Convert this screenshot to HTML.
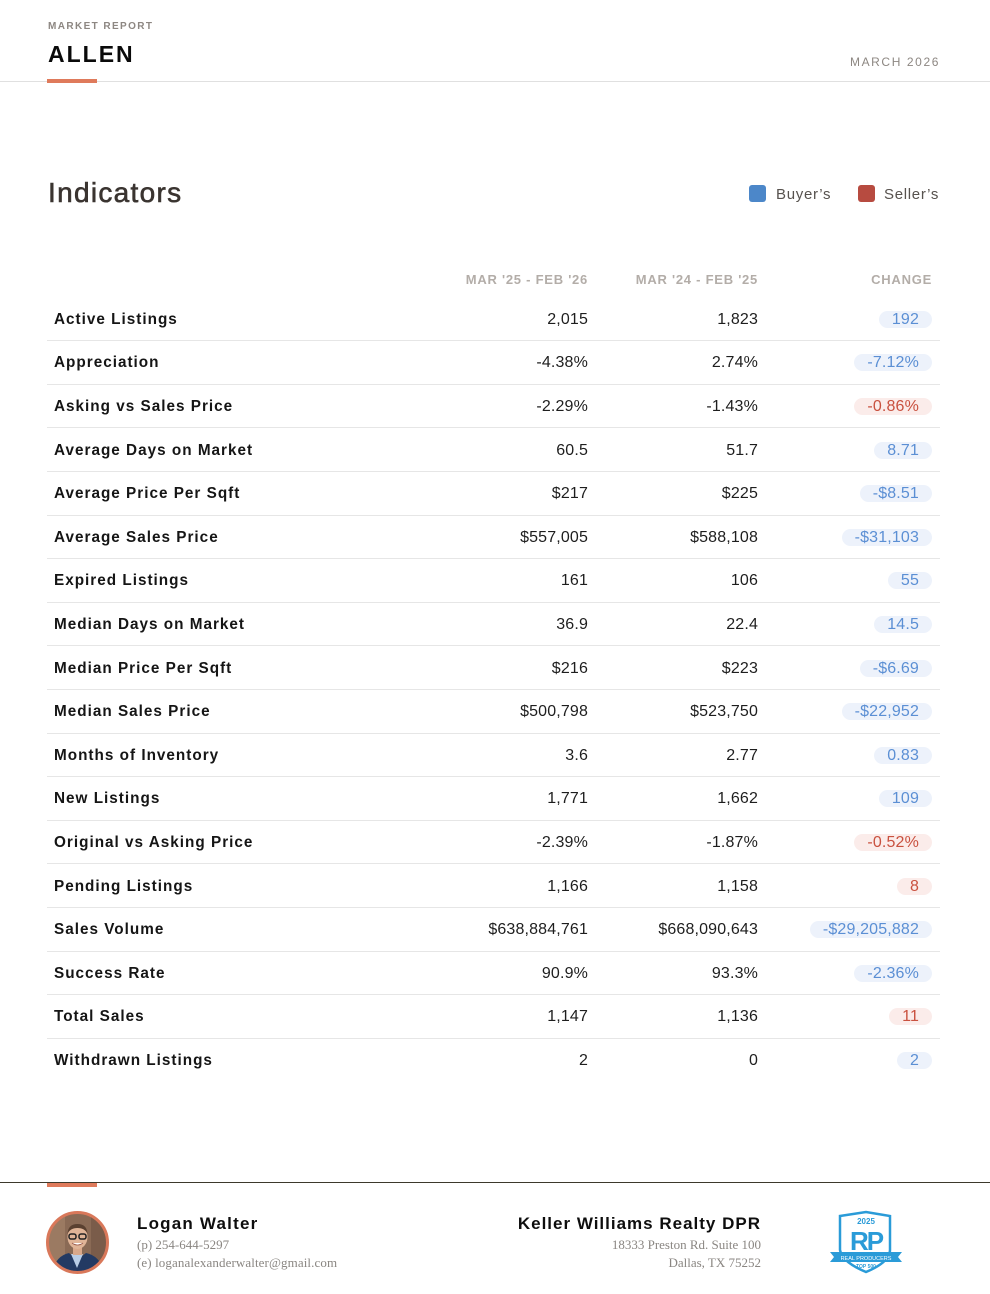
<!DOCTYPE html>
<html><head><meta charset="utf-8">
<style>
*{margin:0;padding:0;box-sizing:border-box}
html,body{width:990px;height:1294px;background:#fff;overflow:hidden}
body{position:relative;font-family:"Liberation Sans",sans-serif;color:#111}
.abs{position:absolute;white-space:nowrap}
.row{position:absolute;left:47px;width:893px;height:43.6px;border-bottom:1px solid #e6e6e6}
.row.last{border-bottom:none}
.lbl{position:absolute;left:7px;top:0;height:43.6px;line-height:44.6px;font-weight:bold;font-size:15.3px;letter-spacing:1px;color:#151515}
.v1,.v2{position:absolute;top:0;height:43.6px;line-height:44.6px;font-size:16px;letter-spacing:0.15px;color:#1e1e1e;text-align:right}
.v1{right:352px}
.v2{right:182px}
.pill{position:absolute;right:8px;top:13px;height:17px;line-height:17px;border-radius:9px;padding:0 13px 0 13px;font-size:16px;letter-spacing:0.15px}
.b{background:#edf2fb;color:#5b8fd4}
.r{background:#fbecea;color:#c9513f}
.hd{position:absolute;top:272px;height:16px;line-height:16px;font-size:13px;font-weight:bold;letter-spacing:0.75px;color:#b3ada8;text-align:right}
.ser{font-family:'Liberation Serif',serif;font-size:13px;line-height:16px;color:#8a8682}
</style></head><body>

<!-- header -->
<div class="abs" style="left:48px;top:21px;font-size:10px;line-height:12px;letter-spacing:1.4px;color:#8d8782;font-weight:bold">MARKET REPORT</div>
<div class="abs" style="left:48px;top:42px;font-size:23px;line-height:24px;font-weight:bold;letter-spacing:2px;color:#0a0a0a">ALLEN</div>
<div class="abs" style="right:50px;top:55px;font-size:12px;line-height:14px;letter-spacing:1.6px;color:#8d8782">MARCH 2026</div>
<div class="abs" style="left:0;top:81px;width:990px;height:1px;background:#e0e0e0"></div>
<div class="abs" style="left:47px;top:79px;width:50px;height:4px;background:#df7a5b"></div>

<!-- title + legend -->
<div class="abs" style="left:48px;top:178px;font-size:28px;line-height:30px;letter-spacing:1.3px;color:#3a3430;-webkit-text-stroke:0.6px #3a3430">Indicators</div>
<div class="abs" style="left:749px;top:185px;width:17px;height:17px;border-radius:3px;background:#4c87c9"></div>
<div class="abs" style="left:776px;top:186px;font-size:15px;line-height:18px;letter-spacing:0.7px;color:#57524e">Buyer’s</div>
<div class="abs" style="left:858px;top:185px;width:17px;height:17px;border-radius:3px;background:#b74b40"></div>
<div class="abs" style="left:884px;top:186px;font-size:15px;line-height:18px;letter-spacing:0.7px;color:#57524e">Seller’s</div>

<!-- column headers -->
<div class="hd" style="right:402px">MAR '25 - FEB '26</div>
<div class="hd" style="right:232px">MAR '24 - FEB '25</div>
<div class="hd" style="right:58px">CHANGE</div>

<!-- rows -->
<div class="row" style="top:297.7px"><div class="lbl">Active Listings</div><div class="v1">2,015</div><div class="v2">1,823</div><div class="pill b">192</div></div>
<div class="row" style="top:341.3px"><div class="lbl">Appreciation</div><div class="v1">-4.38%</div><div class="v2">2.74%</div><div class="pill b">-7.12%</div></div>
<div class="row" style="top:384.9px"><div class="lbl">Asking vs Sales Price</div><div class="v1">-2.29%</div><div class="v2">-1.43%</div><div class="pill r">-0.86%</div></div>
<div class="row" style="top:428.5px"><div class="lbl">Average Days on Market</div><div class="v1">60.5</div><div class="v2">51.7</div><div class="pill b">8.71</div></div>
<div class="row" style="top:472.1px"><div class="lbl">Average Price Per Sqft</div><div class="v1">$217</div><div class="v2">$225</div><div class="pill b">-$8.51</div></div>
<div class="row" style="top:515.7px"><div class="lbl">Average Sales Price</div><div class="v1">$557,005</div><div class="v2">$588,108</div><div class="pill b">-$31,103</div></div>
<div class="row" style="top:559.3px"><div class="lbl">Expired Listings</div><div class="v1">161</div><div class="v2">106</div><div class="pill b">55</div></div>
<div class="row" style="top:602.9px"><div class="lbl">Median Days on Market</div><div class="v1">36.9</div><div class="v2">22.4</div><div class="pill b">14.5</div></div>
<div class="row" style="top:646.5px"><div class="lbl">Median Price Per Sqft</div><div class="v1">$216</div><div class="v2">$223</div><div class="pill b">-$6.69</div></div>
<div class="row" style="top:690.1px"><div class="lbl">Median Sales Price</div><div class="v1">$500,798</div><div class="v2">$523,750</div><div class="pill b">-$22,952</div></div>
<div class="row" style="top:733.7px"><div class="lbl">Months of Inventory</div><div class="v1">3.6</div><div class="v2">2.77</div><div class="pill b">0.83</div></div>
<div class="row" style="top:777.3px"><div class="lbl">New Listings</div><div class="v1">1,771</div><div class="v2">1,662</div><div class="pill b">109</div></div>
<div class="row" style="top:820.9px"><div class="lbl">Original vs Asking Price</div><div class="v1">-2.39%</div><div class="v2">-1.87%</div><div class="pill r">-0.52%</div></div>
<div class="row" style="top:864.5px"><div class="lbl">Pending Listings</div><div class="v1">1,166</div><div class="v2">1,158</div><div class="pill r">8</div></div>
<div class="row" style="top:908.1px"><div class="lbl">Sales Volume</div><div class="v1">$638,884,761</div><div class="v2">$668,090,643</div><div class="pill b">-$29,205,882</div></div>
<div class="row" style="top:951.7px"><div class="lbl">Success Rate</div><div class="v1">90.9%</div><div class="v2">93.3%</div><div class="pill b">-2.36%</div></div>
<div class="row" style="top:995.3px"><div class="lbl">Total Sales</div><div class="v1">1,147</div><div class="v2">1,136</div><div class="pill r">11</div></div>
<div class="row last" style="top:1038.9px"><div class="lbl">Withdrawn Listings</div><div class="v1">2</div><div class="v2">0</div><div class="pill b">2</div></div>

<!-- footer -->
<div class="abs" style="left:0;top:1182px;width:990px;height:1px;background:#3d392c"></div>
<div class="abs" style="left:47px;top:1183px;width:50px;height:4px;background:#df7a5b"></div>

<svg class="abs" style="left:45px;top:1210px" width="65" height="65" viewBox="0 0 65 65">
  <defs><clipPath id="c"><circle cx="32.5" cy="32.5" r="29.5"/></clipPath></defs>
  <circle cx="32.5" cy="32.5" r="31" fill="#d9785a"/>
  <g clip-path="url(#c)">
    <rect x="0" y="0" width="65" height="65" fill="#8a6a55"/>
    <rect x="0" y="0" width="20" height="65" fill="#9b7a62"/>
    <rect x="46" y="0" width="19" height="65" fill="#7a5c4a"/>
    <path d="M6 65 Q10 46 24 43 L32 50 L41 43 Q56 46 60 65 Z" fill="#233a63"/>
    <path d="M26 44 L32 58 L38 44 Z" fill="#b9cde6"/>
    <rect x="28" y="36" width="9" height="9" fill="#d9a88a"/>
    <ellipse cx="32.5" cy="27" rx="10" ry="12" fill="#e0b497"/>
    <path d="M22.5 24 Q23 14 32.5 14 Q42 14 42.5 24 Q40 18 32.5 18 Q25 18 22.5 24Z" fill="#5a4030"/>
    <rect x="24" y="24" width="7" height="5" rx="2" fill="none" stroke="#222" stroke-width="1.5"/>
    <rect x="34" y="24" width="7" height="5" rx="2" fill="none" stroke="#222" stroke-width="1.5"/>
    <path d="M27 33 Q32.5 37 38 33" fill="#fff" stroke="#9a5a4a" stroke-width="0.8"/>
  </g>
  <circle cx="32.5" cy="32.5" r="30" fill="none" stroke="#d9785a" stroke-width="3"/>
</svg>

<div class="abs" style="left:137px;top:1214px;font-size:17px;line-height:20px;font-weight:bold;letter-spacing:1.2px;color:#0e0e0e">Logan Walter</div>
<div class="abs ser" style="left:137px;top:1237px">(p) 254-644-5297</div>
<div class="abs ser" style="left:137px;top:1255px;letter-spacing:0.1px">(e) loganalexanderwalter@gmail.com</div>

<div class="abs" style="right:229px;top:1214px;font-size:17px;line-height:20px;font-weight:bold;letter-spacing:1px;color:#0e0e0e">Keller Williams Realty DPR</div>
<div class="abs ser" style="right:229px;top:1237px;text-align:right">18333 Preston Rd. Suite 100</div>
<div class="abs ser" style="right:229px;top:1255px;text-align:right">Dallas, TX 75252</div>

<svg class="abs" style="left:828px;top:1210px" width="76" height="64" viewBox="0 0 76 64">
  <path d="M12 6 L38 2 L62 6 L62 40 Q62 52 38 62 Q14 52 12 40 Z" fill="#fff" stroke="#2a9bd8" stroke-width="2.5"/>
  <text x="38" y="14" text-anchor="middle" font-family="Liberation Sans,sans-serif" font-weight="bold" font-size="8" fill="#2a9bd8">2025</text>
  <text x="38" y="40" text-anchor="middle" font-family="Liberation Sans,sans-serif" font-weight="bold" font-size="26" fill="#2a9bd8" letter-spacing="-2">RP</text>
  <path d="M2 42 L74 42 L70 47 L74 52 L2 52 L6 47 Z" fill="#2a9bd8"/>
  <text x="38" y="50" text-anchor="middle" font-family="Liberation Sans,sans-serif" font-size="5.5" fill="#fff">REAL PRODUCERS</text>
  <text x="38" y="58" text-anchor="middle" font-family="Liberation Sans,sans-serif" font-weight="bold" font-size="5" fill="#2a9bd8">TOP 500</text>
</svg>

</body></html>
